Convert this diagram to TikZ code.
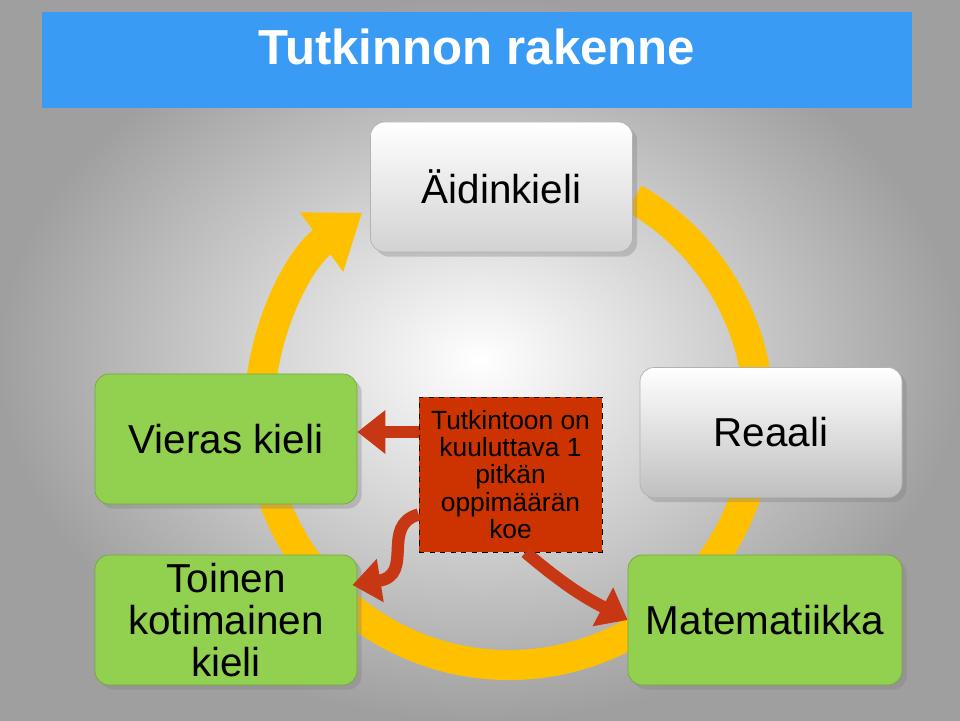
\documentclass[tikz,border=0pt]{standalone}
\usepackage{fontspec}
\setmainfont{Liberation Sans}
\usetikzlibrary{positioning,shadows,arrows.meta}
\definecolor{titleblue}{RGB}{58,155,245}
\definecolor{ringyellow}{RGB}{255,192,0}
\definecolor{boxgreen}{RGB}{146,208,80}
\definecolor{boxred}{RGB}{204,51,0}
\definecolor{arrowred}{RGB}{200,55,20}
\tikzset{
  subject/.style={draw=gray!60, rounded corners=8pt, minimum width=5.24cm, minimum height=2.6cm,
    align=center, font=\fontsize{23}{24}\selectfont, drop shadow={opacity=0.35}},
  greenbox/.style={subject, fill=boxgreen, draw=boxgreen!80!black},
  graybox/.style={subject, top color=white, bottom color=gray!35},
  redarrow/.style={draw=arrowred, line width=7pt, -{Triangle[width=24pt,length=16pt]}}
}
\begin{document}
\begin{tikzpicture}
  \useasboundingbox (0,0) rectangle (19.2,14.4);
  \shade[inner color=white, outer color=gray!75] (0,0) rectangle (19.2,14.4);
  % title
  \fill[titleblue] (0.84,12.24) rectangle (18.24,14.16);
  \node[text=white, font=\bfseries\fontsize{28}{30}\selectfont] (title) at (9.54,13.46) {Tutkinnon rakenne};
  % ring
  \draw[ringyellow, line width=0.6cm, -{Triangle[width=1.4cm,length=1cm]}]
    (10.18,6.1) ++(420:5.0cm) arc[start angle=420, end angle=126, radius=5.0cm];
  % boxes
  \node[graybox] (aidin) at (10.03,10.66) {Äidinkieli};
  \node[greenbox] (vieras) at (4.52,5.62) {Vieras kieli};
  \node[greenbox] (toinen) at (4.52,2.0) {Toinen\\kotimainen\\kieli};
  \node[graybox, bottom color=gray!50] (reaali) at (15.42,5.75) {Reaali};
  \node[greenbox, minimum width=5.48cm] (matem) at (15.3,2.0) {Matematiikka};
  \node[draw=black, dashed, fill=boxred, minimum width=3.66cm, minimum height=3.1cm,
    align=center, font=\fontsize{15}{15.5}\selectfont] (koe) at (10.21,4.91)
    {Tutkintoon on\\kuuluttava 1\\pitkän\\oppimäärän\\koe};
  % arrows
  \coordinate (koeA) at ([yshift=0.85cm]koe.west);
  \draw[redarrow] (koeA) -- (vieras.east |- koeA);
  \draw[redarrow] ([yshift=-0.8cm]koe.west) .. controls (7.6,3.9) and (8.3,2.9) .. (7.05,2.7);
  \draw[redarrow] ([xshift=0.3cm]koe.south) .. controls (11.4,2.6) and (11.8,2.4) .. (matem.west);
\end{tikzpicture}
\end{document}
